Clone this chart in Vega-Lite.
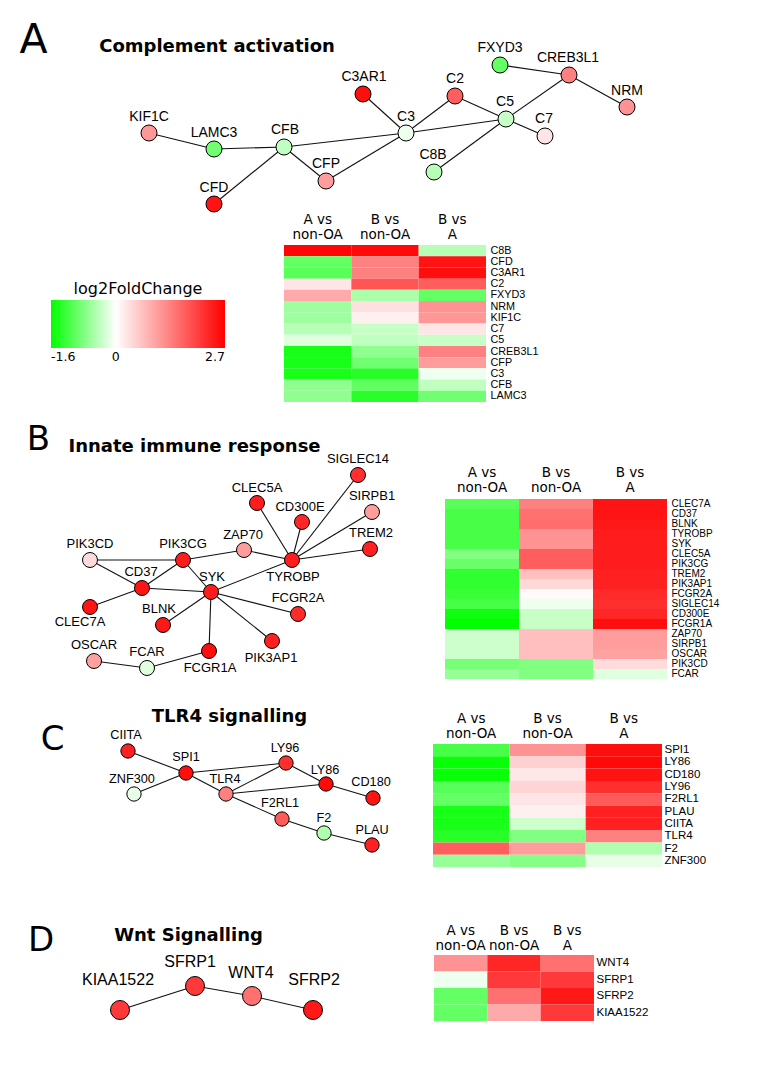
{
  "$schema": "https://vega.github.io/schema/vega-lite/v6.json",
  "width": 763,
  "height": 1079,
  "padding": 0,
  "autosize": {"type": "none"},
  "background": "white",
  "config": {
    "view": {"stroke": null},
    "axis": {"domain": false, "ticks": false, "tickSize": 0, "grid": false, "labelColor": "black", "labelOverlap": false, "labelBound": false}
  },
  "datasets": {
    "nodes": [
      {"panel": "A", "gene": "KIF1C", "x": 149, "y": 133, "lx": 149, "ly": 117, "value": 1.1},
      {"panel": "A", "gene": "LAMC3", "x": 214, "y": 149, "lx": 214, "ly": 133, "value": -0.9},
      {"panel": "A", "gene": "CFB", "x": 284, "y": 147, "lx": 285, "ly": 130, "value": -0.4},
      {"panel": "A", "gene": "CFP", "x": 326, "y": 181, "lx": 326, "ly": 164, "value": 1.05},
      {"panel": "A", "gene": "CFD", "x": 214, "y": 204, "lx": 214, "ly": 188, "value": 2.5},
      {"panel": "A", "gene": "C3AR1", "x": 363, "y": 94, "lx": 364, "ly": 77, "value": 2.55},
      {"panel": "A", "gene": "C3", "x": 406, "y": 133, "lx": 406, "ly": 117, "value": -0.1},
      {"panel": "A", "gene": "C2", "x": 455, "y": 96, "lx": 455, "ly": 79, "value": 1.7},
      {"panel": "A", "gene": "C5", "x": 506, "y": 119, "lx": 505, "ly": 102, "value": -0.35},
      {"panel": "A", "gene": "C7", "x": 545, "y": 136, "lx": 544, "ly": 119, "value": 0.28},
      {"panel": "A", "gene": "C8B", "x": 434, "y": 172, "lx": 433, "ly": 155, "value": -0.45},
      {"panel": "A", "gene": "FXYD3", "x": 500, "y": 65, "lx": 500, "ly": 48, "value": -0.97},
      {"panel": "A", "gene": "CREB3L1", "x": 569, "y": 75, "lx": 568, "ly": 58, "value": 1.35},
      {"panel": "A", "gene": "NRM", "x": 627, "y": 107, "lx": 627, "ly": 91, "value": 1.15},
      {"panel": "B", "gene": "CLEC5A", "x": 257, "y": 503, "lx": 257, "ly": 488, "value": 2.4},
      {"panel": "B", "gene": "CD300E", "x": 302, "y": 522, "lx": 300, "ly": 507, "value": 2.3},
      {"panel": "B", "gene": "SIGLEC14", "x": 358, "y": 475, "lx": 358, "ly": 459, "value": 2.2},
      {"panel": "B", "gene": "SIRPB1", "x": 372, "y": 512, "lx": 372, "ly": 496, "value": 1.05},
      {"panel": "B", "gene": "TREM2", "x": 370, "y": 549, "lx": 371, "ly": 533, "value": 2.35},
      {"panel": "B", "gene": "TYROBP", "x": 292, "y": 560, "lx": 293, "ly": 577, "value": 2.4},
      {"panel": "B", "gene": "ZAP70", "x": 244, "y": 550, "lx": 243, "ly": 535, "value": 1.05},
      {"panel": "B", "gene": "PIK3CG", "x": 183, "y": 560, "lx": 183, "ly": 544, "value": 2.4},
      {"panel": "B", "gene": "PIK3CD", "x": 90, "y": 560, "lx": 90, "ly": 544, "value": 0.38},
      {"panel": "B", "gene": "CD37", "x": 142, "y": 588, "lx": 141, "ly": 572, "value": 2.5},
      {"panel": "B", "gene": "SYK", "x": 211, "y": 592, "lx": 212, "ly": 577, "value": 2.4},
      {"panel": "B", "gene": "CLEC7A", "x": 90, "y": 607, "lx": 80, "ly": 622, "value": 2.5},
      {"panel": "B", "gene": "BLNK", "x": 163, "y": 625, "lx": 159, "ly": 609, "value": 2.45},
      {"panel": "B", "gene": "FCGR2A", "x": 298, "y": 614, "lx": 298, "ly": 598, "value": 2.25},
      {"panel": "B", "gene": "PIK3AP1", "x": 272, "y": 641, "lx": 271, "ly": 658, "value": 2.35},
      {"panel": "B", "gene": "FCGR1A", "x": 209, "y": 651, "lx": 210, "ly": 668, "value": 2.55},
      {"panel": "B", "gene": "FCAR", "x": 147, "y": 668, "lx": 147, "ly": 652, "value": -0.2},
      {"panel": "B", "gene": "OSCAR", "x": 94, "y": 661, "lx": 94, "ly": 645, "value": 1.0},
      {"panel": "C", "gene": "CIITA", "x": 128, "y": 751, "lx": 126, "ly": 735, "value": 2.35},
      {"panel": "C", "gene": "SPI1", "x": 186, "y": 773, "lx": 186, "ly": 757, "value": 2.55},
      {"panel": "C", "gene": "ZNF300", "x": 134, "y": 794, "lx": 132, "ly": 779, "value": -0.15},
      {"panel": "C", "gene": "TLR4", "x": 226, "y": 794, "lx": 225, "ly": 779, "value": 1.35},
      {"panel": "C", "gene": "LY96", "x": 286, "y": 763, "lx": 285, "ly": 748, "value": 2.2},
      {"panel": "C", "gene": "LY86", "x": 326, "y": 784, "lx": 325, "ly": 770, "value": 2.6},
      {"panel": "C", "gene": "CD180", "x": 373, "y": 798, "lx": 371, "ly": 782, "value": 2.5},
      {"panel": "C", "gene": "F2RL1", "x": 282, "y": 819, "lx": 280, "ly": 803, "value": 1.75},
      {"panel": "C", "gene": "F2", "x": 324, "y": 833, "lx": 324, "ly": 818, "value": -0.5},
      {"panel": "C", "gene": "PLAU", "x": 372, "y": 845, "lx": 372, "ly": 830, "value": 2.35},
      {"panel": "D", "gene": "KIAA1522", "x": 120, "y": 1010, "lx": 118, "ly": 980, "value": 2.1},
      {"panel": "D", "gene": "SFRP1", "x": 195, "y": 986, "lx": 190, "ly": 962, "value": 2.1},
      {"panel": "D", "gene": "WNT4", "x": 252, "y": 996, "lx": 251, "ly": 973, "value": 1.5},
      {"panel": "D", "gene": "SFRP2", "x": 313, "y": 1010, "lx": 314, "ly": 980, "value": 2.45}
    ],
    "edges": [
      {"source": "KIF1C", "target": "LAMC3"}, {"source": "LAMC3", "target": "CFB"}, {"source": "CFB", "target": "CFD"},
      {"source": "CFB", "target": "CFP"}, {"source": "CFB", "target": "C3"}, {"source": "CFP", "target": "C3"},
      {"source": "C3AR1", "target": "C3"}, {"source": "C3", "target": "C2"}, {"source": "C3", "target": "C5"},
      {"source": "C2", "target": "C5"}, {"source": "C5", "target": "C8B"}, {"source": "C5", "target": "C7"},
      {"source": "C5", "target": "CREB3L1"}, {"source": "FXYD3", "target": "CREB3L1"}, {"source": "CREB3L1", "target": "NRM"},
      {"source": "PIK3CD", "target": "PIK3CG"}, {"source": "PIK3CD", "target": "CD37"}, {"source": "CD37", "target": "PIK3CG"},
      {"source": "CD37", "target": "CLEC7A"}, {"source": "CD37", "target": "SYK"}, {"source": "PIK3CG", "target": "SYK"},
      {"source": "PIK3CG", "target": "ZAP70"}, {"source": "ZAP70", "target": "TYROBP"}, {"source": "SYK", "target": "TYROBP"},
      {"source": "SYK", "target": "BLNK"}, {"source": "SYK", "target": "FCGR2A"}, {"source": "SYK", "target": "PIK3AP1"},
      {"source": "SYK", "target": "FCGR1A"}, {"source": "FCGR1A", "target": "FCAR"}, {"source": "FCAR", "target": "OSCAR"},
      {"source": "TYROBP", "target": "CLEC5A"}, {"source": "TYROBP", "target": "CD300E"}, {"source": "TYROBP", "target": "SIGLEC14"},
      {"source": "TYROBP", "target": "SIRPB1"}, {"source": "TYROBP", "target": "TREM2"},
      {"source": "CIITA", "target": "SPI1"}, {"source": "ZNF300", "target": "SPI1"}, {"source": "SPI1", "target": "LY96"},
      {"source": "SPI1", "target": "TLR4"}, {"source": "TLR4", "target": "LY96"}, {"source": "TLR4", "target": "LY86"},
      {"source": "LY96", "target": "LY86"}, {"source": "LY86", "target": "CD180"}, {"source": "TLR4", "target": "F2RL1"},
      {"source": "F2RL1", "target": "F2"}, {"source": "F2", "target": "PLAU"},
      {"source": "KIAA1522", "target": "SFRP1"}, {"source": "SFRP1", "target": "WNT4"}, {"source": "WNT4", "target": "SFRP2"}
    ],
    "letters": [
      {"panel": "A", "text": "A", "x": 33.5, "y": 53},
      {"panel": "B", "text": "B", "x": 38.5, "y": 450},
      {"panel": "C", "text": "C", "x": 52.5, "y": 750},
      {"panel": "D", "text": "D", "x": 41, "y": 951}
    ],
    "titles": [
      {"panel": "A", "text": "Complement activation", "x": 217, "y": 52},
      {"panel": "B", "text": "Innate immune response", "x": 194.5, "y": 452},
      {"panel": "C", "text": "TLR4 signalling", "x": 229.5, "y": 722},
      {"panel": "D", "text": "Wnt Signalling", "x": 188.5, "y": 941}
    ],
    "hm": [
      {"panel": "A", "gene": "C8B", "comparison": "A vs non-OA", "value": 2.65},
      {"panel": "A", "gene": "C8B", "comparison": "B vs non-OA", "value": 2.6},
      {"panel": "A", "gene": "C8B", "comparison": "B vs A", "value": -0.45},
      {"panel": "A", "gene": "CFD", "comparison": "A vs non-OA", "value": -0.97},
      {"panel": "A", "gene": "CFD", "comparison": "B vs non-OA", "value": 1.35},
      {"panel": "A", "gene": "CFD", "comparison": "B vs A", "value": 2.5},
      {"panel": "A", "gene": "C3AR1", "comparison": "A vs non-OA", "value": -1.05},
      {"panel": "A", "gene": "C3AR1", "comparison": "B vs non-OA", "value": 1.35},
      {"panel": "A", "gene": "C3AR1", "comparison": "B vs A", "value": 2.55},
      {"panel": "A", "gene": "C2", "comparison": "A vs non-OA", "value": 0.27},
      {"panel": "A", "gene": "C2", "comparison": "B vs non-OA", "value": 1.8},
      {"panel": "A", "gene": "C2", "comparison": "B vs A", "value": 1.7},
      {"panel": "A", "gene": "FXYD3", "comparison": "A vs non-OA", "value": 0.9},
      {"panel": "A", "gene": "FXYD3", "comparison": "B vs non-OA", "value": -0.53},
      {"panel": "A", "gene": "FXYD3", "comparison": "B vs A", "value": -0.97},
      {"panel": "A", "gene": "NRM", "comparison": "A vs non-OA", "value": -0.6},
      {"panel": "A", "gene": "NRM", "comparison": "B vs non-OA", "value": 0.33},
      {"panel": "A", "gene": "NRM", "comparison": "B vs A", "value": 1.15},
      {"panel": "A", "gene": "KIF1C", "comparison": "A vs non-OA", "value": -0.6},
      {"panel": "A", "gene": "KIF1C", "comparison": "B vs non-OA", "value": 0.16},
      {"panel": "A", "gene": "KIF1C", "comparison": "B vs A", "value": 1.1},
      {"panel": "A", "gene": "C7", "comparison": "A vs non-OA", "value": -0.45},
      {"panel": "A", "gene": "C7", "comparison": "B vs non-OA", "value": -0.35},
      {"panel": "A", "gene": "C7", "comparison": "B vs A", "value": 0.28},
      {"panel": "A", "gene": "C5", "comparison": "A vs non-OA", "value": -0.2},
      {"panel": "A", "gene": "C5", "comparison": "B vs non-OA", "value": -0.4},
      {"panel": "A", "gene": "C5", "comparison": "B vs A", "value": -0.35},
      {"panel": "A", "gene": "CREB3L1", "comparison": "A vs non-OA", "value": -1.45},
      {"panel": "A", "gene": "CREB3L1", "comparison": "B vs non-OA", "value": -0.7},
      {"panel": "A", "gene": "CREB3L1", "comparison": "B vs A", "value": 1.35},
      {"panel": "A", "gene": "CFP", "comparison": "A vs non-OA", "value": -1.45},
      {"panel": "A", "gene": "CFP", "comparison": "B vs non-OA", "value": -0.9},
      {"panel": "A", "gene": "CFP", "comparison": "B vs A", "value": 1.05},
      {"panel": "A", "gene": "C3", "comparison": "A vs non-OA", "value": -1.45},
      {"panel": "A", "gene": "C3", "comparison": "B vs non-OA", "value": -1.35},
      {"panel": "A", "gene": "C3", "comparison": "B vs A", "value": -0.1},
      {"panel": "A", "gene": "CFB", "comparison": "A vs non-OA", "value": -0.7},
      {"panel": "A", "gene": "CFB", "comparison": "B vs non-OA", "value": -1.0},
      {"panel": "A", "gene": "CFB", "comparison": "B vs A", "value": -0.4},
      {"panel": "A", "gene": "LAMC3", "comparison": "A vs non-OA", "value": -0.7},
      {"panel": "A", "gene": "LAMC3", "comparison": "B vs non-OA", "value": -1.35},
      {"panel": "A", "gene": "LAMC3", "comparison": "B vs A", "value": -0.9},

      {"panel": "B", "gene": "CLEC7A", "comparison": "A vs non-OA", "value": -1.05},
      {"panel": "B", "gene": "CLEC7A", "comparison": "B vs non-OA", "value": 1.35},
      {"panel": "B", "gene": "CLEC7A", "comparison": "B vs A", "value": 2.5},
      {"panel": "B", "gene": "CD37", "comparison": "A vs non-OA", "value": -1.15},
      {"panel": "B", "gene": "CD37", "comparison": "B vs non-OA", "value": 1.5},
      {"panel": "B", "gene": "CD37", "comparison": "B vs A", "value": 2.5},
      {"panel": "B", "gene": "BLNK", "comparison": "A vs non-OA", "value": -1.15},
      {"panel": "B", "gene": "BLNK", "comparison": "B vs non-OA", "value": 1.55},
      {"panel": "B", "gene": "BLNK", "comparison": "B vs A", "value": 2.45},
      {"panel": "B", "gene": "TYROBP", "comparison": "A vs non-OA", "value": -1.15},
      {"panel": "B", "gene": "TYROBP", "comparison": "B vs non-OA", "value": 1.15},
      {"panel": "B", "gene": "TYROBP", "comparison": "B vs A", "value": 2.4},
      {"panel": "B", "gene": "SYK", "comparison": "A vs non-OA", "value": -1.15},
      {"panel": "B", "gene": "SYK", "comparison": "B vs non-OA", "value": 1.15},
      {"panel": "B", "gene": "SYK", "comparison": "B vs A", "value": 2.4},
      {"panel": "B", "gene": "CLEC5A", "comparison": "A vs non-OA", "value": -0.8},
      {"panel": "B", "gene": "CLEC5A", "comparison": "B vs non-OA", "value": 1.7},
      {"panel": "B", "gene": "CLEC5A", "comparison": "B vs A", "value": 2.4},
      {"panel": "B", "gene": "PIK3CG", "comparison": "A vs non-OA", "value": -0.95},
      {"panel": "B", "gene": "PIK3CG", "comparison": "B vs non-OA", "value": 1.7},
      {"panel": "B", "gene": "PIK3CG", "comparison": "B vs A", "value": 2.4},
      {"panel": "B", "gene": "TREM2", "comparison": "A vs non-OA", "value": -1.3},
      {"panel": "B", "gene": "TREM2", "comparison": "B vs non-OA", "value": 0.68},
      {"panel": "B", "gene": "TREM2", "comparison": "B vs A", "value": 2.35},
      {"panel": "B", "gene": "PIK3AP1", "comparison": "A vs non-OA", "value": -1.3},
      {"panel": "B", "gene": "PIK3AP1", "comparison": "B vs non-OA", "value": 0.41},
      {"panel": "B", "gene": "PIK3AP1", "comparison": "B vs A", "value": 2.35},
      {"panel": "B", "gene": "FCGR2A", "comparison": "A vs non-OA", "value": -1.25},
      {"panel": "B", "gene": "FCGR2A", "comparison": "B vs non-OA", "value": 0.05},
      {"panel": "B", "gene": "FCGR2A", "comparison": "B vs A", "value": 2.25},
      {"panel": "B", "gene": "SIGLEC14", "comparison": "A vs non-OA", "value": -1.15},
      {"panel": "B", "gene": "SIGLEC14", "comparison": "B vs non-OA", "value": -0.1},
      {"panel": "B", "gene": "SIGLEC14", "comparison": "B vs A", "value": 2.2},
      {"panel": "B", "gene": "CD300E", "comparison": "A vs non-OA", "value": -1.5},
      {"panel": "B", "gene": "CD300E", "comparison": "B vs non-OA", "value": -0.35},
      {"panel": "B", "gene": "CD300E", "comparison": "B vs A", "value": 2.3},
      {"panel": "B", "gene": "FCGR1A", "comparison": "A vs non-OA", "value": -1.6},
      {"panel": "B", "gene": "FCGR1A", "comparison": "B vs non-OA", "value": -0.35},
      {"panel": "B", "gene": "FCGR1A", "comparison": "B vs A", "value": 2.55},
      {"panel": "B", "gene": "ZAP70", "comparison": "A vs non-OA", "value": -0.32},
      {"panel": "B", "gene": "ZAP70", "comparison": "B vs non-OA", "value": 0.68},
      {"panel": "B", "gene": "ZAP70", "comparison": "B vs A", "value": 1.05},
      {"panel": "B", "gene": "SIRPB1", "comparison": "A vs non-OA", "value": -0.32},
      {"panel": "B", "gene": "SIRPB1", "comparison": "B vs non-OA", "value": 0.68},
      {"panel": "B", "gene": "SIRPB1", "comparison": "B vs A", "value": 1.05},
      {"panel": "B", "gene": "OSCAR", "comparison": "A vs non-OA", "value": -0.32},
      {"panel": "B", "gene": "OSCAR", "comparison": "B vs non-OA", "value": 0.68},
      {"panel": "B", "gene": "OSCAR", "comparison": "B vs A", "value": 1.0},
      {"panel": "B", "gene": "PIK3CD", "comparison": "A vs non-OA", "value": -0.85},
      {"panel": "B", "gene": "PIK3CD", "comparison": "B vs non-OA", "value": -0.8},
      {"panel": "B", "gene": "PIK3CD", "comparison": "B vs A", "value": 0.38},
      {"panel": "B", "gene": "FCAR", "comparison": "A vs non-OA", "value": -0.65},
      {"panel": "B", "gene": "FCAR", "comparison": "B vs non-OA", "value": -0.8},
      {"panel": "B", "gene": "FCAR", "comparison": "B vs A", "value": -0.2},

      {"panel": "C", "gene": "SPI1", "comparison": "A vs non-OA", "value": -1.15},
      {"panel": "C", "gene": "SPI1", "comparison": "B vs non-OA", "value": 1.15},
      {"panel": "C", "gene": "SPI1", "comparison": "B vs A", "value": 2.55},
      {"panel": "C", "gene": "LY86", "comparison": "A vs non-OA", "value": -1.55},
      {"panel": "C", "gene": "LY86", "comparison": "B vs non-OA", "value": 0.5},
      {"panel": "C", "gene": "LY86", "comparison": "B vs A", "value": 2.6},
      {"panel": "C", "gene": "CD180", "comparison": "A vs non-OA", "value": -1.55},
      {"panel": "C", "gene": "CD180", "comparison": "B vs non-OA", "value": 0.25},
      {"panel": "C", "gene": "CD180", "comparison": "B vs A", "value": 2.5},
      {"panel": "C", "gene": "LY96", "comparison": "A vs non-OA", "value": -1.05},
      {"panel": "C", "gene": "LY96", "comparison": "B vs non-OA", "value": 0.45},
      {"panel": "C", "gene": "LY96", "comparison": "B vs A", "value": 2.2},
      {"panel": "C", "gene": "F2RL1", "comparison": "A vs non-OA", "value": -0.97},
      {"panel": "C", "gene": "F2RL1", "comparison": "B vs non-OA", "value": 0.28},
      {"panel": "C", "gene": "F2RL1", "comparison": "B vs A", "value": 1.75},
      {"panel": "C", "gene": "PLAU", "comparison": "A vs non-OA", "value": -1.45},
      {"panel": "C", "gene": "PLAU", "comparison": "B vs non-OA", "value": 0.16},
      {"panel": "C", "gene": "PLAU", "comparison": "B vs A", "value": 2.35},
      {"panel": "C", "gene": "CIITA", "comparison": "A vs non-OA", "value": -1.45},
      {"panel": "C", "gene": "CIITA", "comparison": "B vs non-OA", "value": -0.32},
      {"panel": "C", "gene": "CIITA", "comparison": "B vs A", "value": 2.35},
      {"panel": "C", "gene": "TLR4", "comparison": "A vs non-OA", "value": -1.35},
      {"panel": "C", "gene": "TLR4", "comparison": "B vs non-OA", "value": -0.8},
      {"panel": "C", "gene": "TLR4", "comparison": "B vs A", "value": 1.35},
      {"panel": "C", "gene": "F2", "comparison": "A vs non-OA", "value": 1.7},
      {"panel": "C", "gene": "F2", "comparison": "B vs non-OA", "value": 1.05},
      {"panel": "C", "gene": "F2", "comparison": "B vs A", "value": -0.5},
      {"panel": "C", "gene": "ZNF300", "comparison": "A vs non-OA", "value": -0.65},
      {"panel": "C", "gene": "ZNF300", "comparison": "B vs non-OA", "value": -0.75},
      {"panel": "C", "gene": "ZNF300", "comparison": "B vs A", "value": -0.15},

      {"panel": "D", "gene": "WNT4", "comparison": "A vs non-OA", "value": 1.15},
      {"panel": "D", "gene": "WNT4", "comparison": "B vs non-OA", "value": 2.3},
      {"panel": "D", "gene": "WNT4", "comparison": "B vs A", "value": 1.5},
      {"panel": "D", "gene": "SFRP1", "comparison": "A vs non-OA", "value": -0.1},
      {"panel": "D", "gene": "SFRP1", "comparison": "B vs non-OA", "value": 2.1},
      {"panel": "D", "gene": "SFRP1", "comparison": "B vs A", "value": 2.1},
      {"panel": "D", "gene": "SFRP2", "comparison": "A vs non-OA", "value": -0.97},
      {"panel": "D", "gene": "SFRP2", "comparison": "B vs non-OA", "value": 1.5},
      {"panel": "D", "gene": "SFRP2", "comparison": "B vs A", "value": 2.45},
      {"panel": "D", "gene": "KIAA1522", "comparison": "A vs non-OA", "value": -0.97},
      {"panel": "D", "gene": "KIAA1522", "comparison": "B vs non-OA", "value": 0.9},
      {"panel": "D", "gene": "KIAA1522", "comparison": "B vs A", "value": 2.1}
    ]
  },
  "layer": [
    {
      "layer": [
        {
          "data": {"name": "edges"},
          "transform": [
            {"lookup": "source", "from": {"data": {"name": "nodes"}, "key": "gene", "fields": ["x", "y"]}, "as": ["x1", "y1"]},
            {"lookup": "target", "from": {"data": {"name": "nodes"}, "key": "gene", "fields": ["x", "y"]}, "as": ["x2", "y2"]}
          ],
          "mark": {"type": "rule", "color": "#111111", "strokeWidth": 1.1},
          "encoding": {
            "x": {"field": "x1", "type": "quantitative", "scale": {"domain": [0, 763], "nice": false, "zero": false}, "axis": null},
            "y": {"field": "y1", "type": "quantitative", "scale": {"domain": [0, 1079], "nice": false, "zero": false, "reverse": true}, "axis": null},
            "x2": {"field": "x2"},
            "y2": {"field": "y2"}
          }
        },
        {
          "data": {"name": "nodes"},
          "mark": {"type": "point", "shape": "circle", "filled": true, "stroke": "black", "strokeWidth": 1, "opacity": 1},
          "encoding": {
            "x": {"field": "x", "type": "quantitative", "scale": {"domain": [0, 763], "nice": false, "zero": false}, "axis": null},
            "y": {"field": "y", "type": "quantitative", "scale": {"domain": [0, 1079], "nice": false, "zero": false, "reverse": true}, "axis": null},
            "color": {"field": "value", "type": "quantitative", "scale": {"domain": [-1.6, 0, 2.7], "range": ["#00ff00", "#ffffff", "#ff0000"], "interpolate": "rgb", "clamp": true}},
            "size": {"field": "panel", "type": "nominal", "scale": {"type": "ordinal", "domain": ["A", "B", "C", "D"], "range": [256, 225, 205, 361]}, "legend": null}
          }
        },
        {
          "data": {"name": "nodes"},
          "mark": {"type": "text", "font": "Liberation Sans", "align": "center", "baseline": "middle", "color": "black"},
          "encoding": {
            "x": {"field": "lx", "type": "quantitative", "scale": {"domain": [0, 763], "nice": false, "zero": false}, "axis": null},
            "y": {"field": "ly", "type": "quantitative", "scale": {"domain": [0, 1079], "nice": false, "zero": false, "reverse": true}, "axis": null},
            "text": {"field": "gene"},
            "size": {"field": "panel", "type": "nominal", "scale": {"type": "ordinal", "domain": ["A", "B", "C", "D"], "range": [14, 13, 12.7, 16]}, "legend": null}
          }
        },
        {
          "data": {"name": "letters"},
          "mark": {"type": "text", "font": "DejaVu Sans", "align": "center", "baseline": "alphabetic", "color": "black"},
          "encoding": {
            "x": {"field": "x", "type": "quantitative", "scale": {"domain": [0, 763], "nice": false, "zero": false}, "axis": null},
            "y": {"field": "y", "type": "quantitative", "scale": {"domain": [0, 1079], "nice": false, "zero": false, "reverse": true}, "axis": null},
            "text": {"field": "text"},
            "size": {"field": "panel", "type": "nominal", "scale": {"type": "ordinal", "domain": ["A", "B", "C", "D"], "range": [41, 34, 34, 34]}, "legend": null}
          }
        },
        {
          "data": {"name": "titles"},
          "mark": {"type": "text", "font": "DejaVu Sans", "fontWeight": "bold", "fontSize": 18, "align": "center", "baseline": "alphabetic", "color": "black"},
          "encoding": {
            "x": {"field": "x", "type": "quantitative", "scale": {"domain": [0, 763], "nice": false, "zero": false}, "axis": null},
            "y": {"field": "y", "type": "quantitative", "scale": {"domain": [0, 1079], "nice": false, "zero": false, "reverse": true}, "axis": null},
            "text": {"field": "text"}
          }
        }
      ],
      "resolve": {"scale": {"size": "independent"}}
    },
    {
      "data": {"name": "hm"},
      "transform": [{"filter": "datum.panel == 'A'"}],
      "mark": {"type": "rect"},
      "encoding": {
        "x": {"field": "comparison", "type": "nominal", "title": null,
              "scale": {"domain": ["A vs non-OA", "B vs non-OA", "B vs A"], "range": [284, 486], "paddingInner": 0, "paddingOuter": 0},
              "axis": {"orient": "top", "offset": -245, "labelAngle": 0, "labelPadding": 19, "labelFont": "DejaVu Sans", "labelFontSize": 13.5, "labelLineHeight": 15, "labelExpr": "[slice(datum.label,0,4), slice(datum.label,5)]"}},
        "y": {"field": "gene", "type": "nominal", "title": null,
              "scale": {"domain": ["C8B", "CFD", "C3AR1", "C2", "FXYD3", "NRM", "KIF1C", "C7", "C5", "CREB3L1", "CFP", "C3", "CFB", "LAMC3"], "range": [245, 402], "paddingInner": 0, "paddingOuter": 0},
              "axis": {"orient": "right", "offset": -277, "labelPadding": 4, "labelFont": "Liberation Sans", "labelFontSize": 10.8}},
        "color": {"field": "value", "type": "quantitative",
                  "scale": {"domain": [-1.6, 0, 2.7], "range": ["#00ff00", "#ffffff", "#ff0000"], "interpolate": "rgb", "clamp": true},
                  "legend": {"orient": "none", "legendX": 51, "legendY": 281, "direction": "horizontal", "gradientLength": 174, "gradientThickness": 48,
                             "title": "log2FoldChange", "titleFont": "DejaVu Sans", "titleFontSize": 16, "titleFontWeight": "normal", "titleColor": "black", "titleAnchor": "middle", "titlePadding": 3,
                             "values": [-1.6, 0, 2.7], "labelExpr": "toString(datum.value)", "labelFont": "DejaVu Sans", "labelFontSize": 12.5, "labelColor": "black", "labelAlign": "center", "labelOffset": 3, "labelOverlap": false, "gradientStrokeWidth": 0}}
      }
    },
    {
      "data": {"name": "hm"},
      "transform": [{"filter": "datum.panel == 'B'"}],
      "mark": {"type": "rect"},
      "encoding": {
        "x": {"field": "comparison", "type": "nominal", "title": null,
              "scale": {"domain": ["A vs non-OA", "B vs non-OA", "B vs A"], "range": [445, 667], "paddingInner": 0, "paddingOuter": 0},
              "axis": {"orient": "top", "offset": -499, "labelAngle": 0, "labelPadding": 20, "labelFont": "DejaVu Sans", "labelFontSize": 13.5, "labelLineHeight": 15, "labelExpr": "[slice(datum.label,0,4), slice(datum.label,5)]"}},
        "y": {"field": "gene", "type": "nominal", "title": null,
              "scale": {"domain": ["CLEC7A", "CD37", "BLNK", "TYROBP", "SYK", "CLEC5A", "PIK3CG", "TREM2", "PIK3AP1", "FCGR2A", "SIGLEC14", "CD300E", "FCGR1A", "ZAP70", "SIRPB1", "OSCAR", "PIK3CD", "FCAR"], "range": [499, 679], "paddingInner": 0, "paddingOuter": 0},
              "axis": {"orient": "right", "offset": -96, "labelPadding": 4, "labelFont": "Liberation Sans", "labelFontSize": 10}},
        "color": {"field": "value", "type": "quantitative", "scale": {"domain": [-1.6, 0, 2.7], "range": ["#00ff00", "#ffffff", "#ff0000"], "interpolate": "rgb", "clamp": true}}
      }
    },
    {
      "data": {"name": "hm"},
      "transform": [{"filter": "datum.panel == 'C'"}],
      "mark": {"type": "rect"},
      "encoding": {
        "x": {"field": "comparison", "type": "nominal", "title": null,
              "scale": {"domain": ["A vs non-OA", "B vs non-OA", "B vs A"], "range": [433, 662], "paddingInner": 0, "paddingOuter": 0},
              "axis": {"orient": "top", "offset": -744, "labelAngle": 0, "labelPadding": 19, "labelFont": "DejaVu Sans", "labelFontSize": 13.5, "labelLineHeight": 15, "labelExpr": "[slice(datum.label,0,4), slice(datum.label,5)]"}},
        "y": {"field": "gene", "type": "nominal", "title": null,
              "scale": {"domain": ["SPI1", "LY86", "CD180", "LY96", "F2RL1", "PLAU", "CIITA", "TLR4", "F2", "ZNF300"], "range": [744, 867], "paddingInner": 0, "paddingOuter": 0},
              "axis": {"orient": "right", "offset": -101, "labelPadding": 2, "labelFont": "Liberation Sans", "labelFontSize": 11.5}},
        "color": {"field": "value", "type": "quantitative", "scale": {"domain": [-1.6, 0, 2.7], "range": ["#00ff00", "#ffffff", "#ff0000"], "interpolate": "rgb", "clamp": true}}
      }
    },
    {
      "data": {"name": "hm"},
      "transform": [{"filter": "datum.panel == 'D'"}],
      "mark": {"type": "rect"},
      "encoding": {
        "x": {"field": "comparison", "type": "nominal", "title": null,
              "scale": {"domain": ["A vs non-OA", "B vs non-OA", "B vs A"], "range": [434, 594], "paddingInner": 0, "paddingOuter": 0},
              "axis": {"orient": "top", "offset": -955, "labelAngle": 0, "labelPadding": 18, "labelFont": "DejaVu Sans", "labelFontSize": 13.5, "labelLineHeight": 15, "labelExpr": "[slice(datum.label,0,4), slice(datum.label,5)]"}},
        "y": {"field": "gene", "type": "nominal", "title": null,
              "scale": {"domain": ["WNT4", "SFRP1", "SFRP2", "KIAA1522"], "range": [955, 1021], "paddingInner": 0, "paddingOuter": 0},
              "axis": {"orient": "right", "offset": -169, "labelPadding": 2, "labelFont": "Liberation Sans", "labelFontSize": 11.5}},
        "color": {"field": "value", "type": "quantitative", "scale": {"domain": [-1.6, 0, 2.7], "range": ["#00ff00", "#ffffff", "#ff0000"], "interpolate": "rgb", "clamp": true}}
      }
    }
  ],
  "resolve": {"scale": {"x": "independent", "y": "independent", "size": "independent"}, "axis": {"x": "independent", "y": "independent"}}
}
